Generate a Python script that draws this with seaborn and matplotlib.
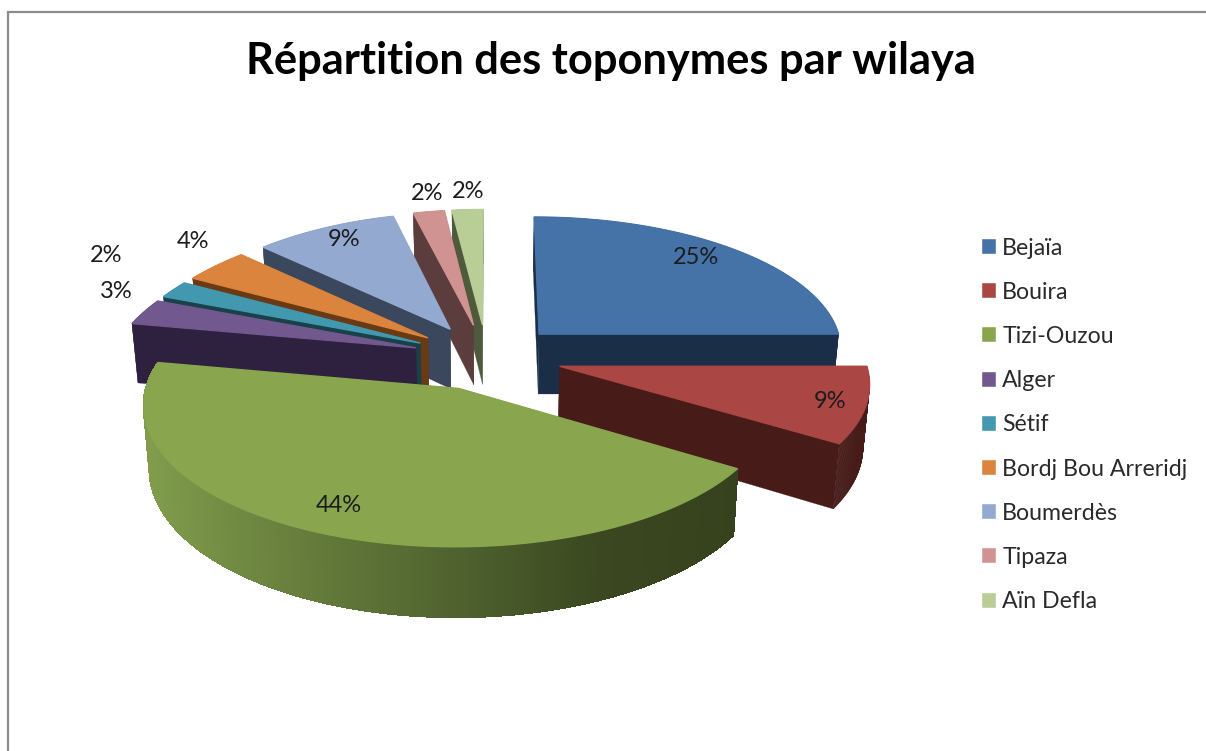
import numpy as np
import matplotlib
matplotlib.use("Agg")
import matplotlib.pyplot as plt
from matplotlib.patches import Patch
import seaborn as sns

wilayas = ["Bejaïa", "Bouira", "Tizi-Ouzou", "Alger", "Sétif", "Bordj Bou Arreridj",
           "Boumerdès", "Tipaza", "Aïn Defla"]
parts = np.array([25, 9, 44, 3, 2, 4, 9, 2, 2])

top_colors = ["#4572A7", "#AA4643", "#89A54E", "#71588F", "#4198AF", "#DB843D",
              "#93A9CF", "#D19392", "#B9CD96"]
wall_colors = ["#1B2E47", "#461B18", "#36421D", "#2E213F", "#1A4049", "#693A14",
               "#3B475C", "#5B3D3D", "#4F5A3C"]

# position des etiquettes en pixels
label_x = [696, 830, 339, 116, 106, 193, 344, 427, 468]
label_y = [258, 401, 506, 291, 255, 241, 240, 193, 191]

# degrade du flanc vert
grad_px = [145, 300, 450, 600, 740]
grad_r = [0x80, 0x66, 0x50, 0x3A, 0x36]
grad_g = [0x9C, 0x7D, 0x63, 0x47, 0x42]
grad_b = [0x4C, 0x3C, 0x2F, 0x20, 0x1D]

# geometrie de la perspective
CX, CY = 487, 357
RADIUS = 305
EXPLODE = 75
SQUASH = 0.44
PERSP = 0.00035
PERSP_LEFT = 0.0006  # le fond gauche fuit plus vite
DEPTH = 61
TAPER = 0.017


def project(x, y, drop=0.0):
    x, y = np.asarray(x, float), np.asarray(y, float)
    s = 1 / (1 + PERSP * y)
    sx = np.where((x < 0) & (y > 0), 1 / (1 + PERSP_LEFT * y), s)
    px = CX + x * sx * (1 - TAPER * drop / DEPTH)
    py = CY - SQUASH * y * s + drop * s
    return px, py


def draw_slice(ax, start, stop, top, wall, gradient=False):
    mid = np.radians((start + stop) / 2)
    ox, oy = EXPLODE * np.sin(mid), EXPLODE * np.cos(mid)
    theta = np.radians(np.linspace(start, stop, max(int(stop - start) * 3, 10)))
    xs = ox + RADIUS * np.sin(theta)
    ys = oy + RADIUS * np.cos(theta)

    # faces radiales
    for i in (0, -1):
        a = project(ox, oy)
        b = project(xs[i], ys[i])
        c = project(xs[i], ys[i], DEPTH)
        d = project(ox, oy, DEPTH)
        ax.fill([a[0], b[0], c[0], d[0]], [a[1], b[1], c[1], d[1]],
                color=wall, lw=0.2)

    # flanc exterieur
    tx, ty = project(xs, ys)
    bx, by = project(xs, ys, DEPTH)
    for i in range(len(xs) - 1):
        col = wall
        if gradient:
            m = (tx[i] + tx[i + 1]) / 2
            col = (np.interp(m, grad_px, grad_r) / 255,
                   np.interp(m, grad_px, grad_g) / 255,
                   np.interp(m, grad_px, grad_b) / 255)
        ax.fill([tx[i], tx[i + 1], bx[i + 1], bx[i]],
                [ty[i], ty[i + 1], by[i + 1], by[i]], color=col,
                lw=1.0 if gradient else 0.3, antialiased=not gradient)

    # dessus
    ax0, ay0 = project(ox, oy)
    ax.fill(np.r_[ax0, tx], np.r_[ay0, ty], color=top, lw=1.0)


sns.set_theme(style="white")
plt.rcParams["font.family"] = ["Lato", "DejaVu Sans"]

fig, ax = plt.subplots(figsize=(12.06, 7.51), dpi=100)
ax.set_position([0, 0, 1, 1])
ax.set_xlim(0, 1206)
ax.set_ylim(751, 0)
ax.axis("off")

# cadre du graphique
ax.plot([8, 8, 1206], [751, 12, 12], color="#8C8C8C", lw=1.6, solid_joinstyle="miter")

edges = np.r_[0, np.cumsum(parts)] * 360 / parts.sum()
# du fond vers l'avant
order = [8, 7, 6, 5, 4, 3, 0, 1, 2]
for i in order:
    draw_slice(ax, edges[i], edges[i + 1], top_colors[i], wall_colors[i],
               gradient=wilayas[i] == "Tizi-Ouzou")

for x, y, v in zip(label_x, label_y, parts):
    ax.text(x, y, f"{v}%", ha="center", va="center", fontsize=17, color="#1c1c1c")

ax.text(611, 61, "Répartition des toponymes par wilaya", ha="center", va="center",
        fontsize=31.2, fontweight="bold", color="black")

handles = [Patch(facecolor=c, edgecolor="white", lw=0.3, label=w)
           for c, w in zip(top_colors, wilayas)]
ax.legend(handles=handles, loc="center left", bbox_to_anchor=(982, 425),
          bbox_transform=ax.transData, frameon=False, fontsize=16.7,
          handlelength=0.62, handleheight=0.62, handletextpad=0.25,
          labelspacing=1.0, borderpad=0, borderaxespad=0, labelcolor="#2a2a2a")

fig.savefig("out.png", dpi=100, facecolor="white")
